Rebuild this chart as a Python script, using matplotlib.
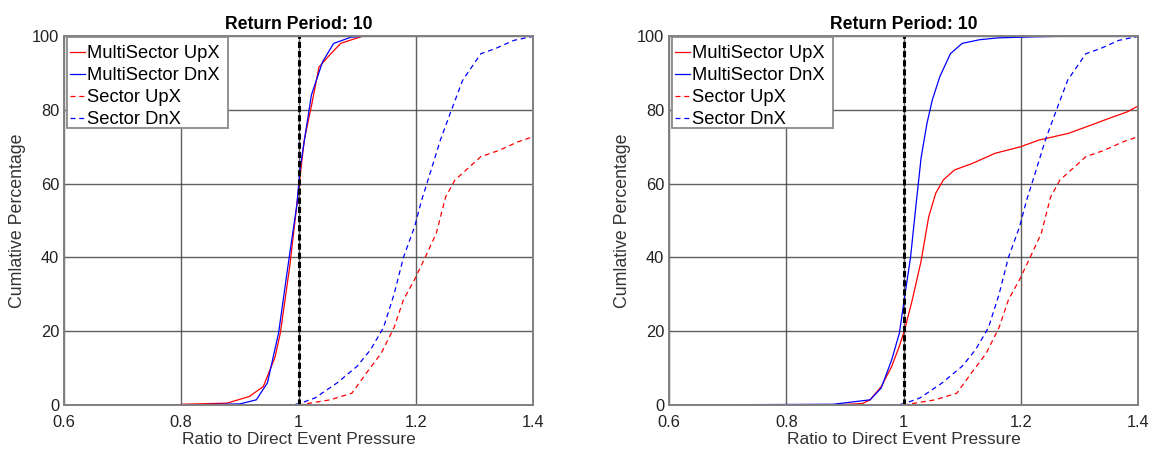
import matplotlib
matplotlib.use("Agg")
import matplotlib.pyplot as plt
from matplotlib.patches import Rectangle

plt.rcParams['font.family'] = ['Liberation Sans', 'DejaVu Sans']

# ---------------- data ----------------
title = "Return Period: 10"
xlabel = "Ratio to Direct Event Pressure"
ylabel = "Cumlative Percentage"
xticks = [0.6, 0.8, 1.0, 1.2, 1.4]
xticklabels = ["0.6", "0.8", "1", "1.2", "1.4"]
yticks = [0, 20, 40, 60, 80, 100]

# Left panel
L_ms_up_x = [0.80, 0.878, 0.916, 0.94, 0.96, 0.969, 0.985, 0.997, 1.010, 1.022, 1.035, 1.054, 1.072, 1.11, 1.4]
L_ms_up_y = [0.2, 0.5, 2.3, 5.0, 13.0, 19.5, 37.5, 54.0, 72.0, 81.0, 91.6, 95.0, 98.0, 100.0, 100.0]
L_ms_dn_x = [0.60, 0.80, 0.90, 0.928, 0.947, 0.966, 0.985, 0.997, 1.003, 1.022, 1.041, 1.06, 1.09, 1.12, 1.4]
L_ms_dn_y = [0.0, 0.0, 0.3, 1.4, 6.0, 19.5, 41.0, 54.0, 64.5, 84.0, 93.0, 98.0, 99.7, 100.0, 100.0]

# Sector curves (same in both panels)
s_up_x = [1.00, 1.054, 1.091, 1.116, 1.141, 1.163, 1.179, 1.198, 1.216, 1.235, 1.251, 1.267, 1.286, 1.311, 1.342, 1.374, 1.40]
s_up_y = [0.0, 1.4, 3.2, 8.7, 14.0, 21.0, 28.5, 34.0, 40.0, 46.5, 56.4, 61.0, 63.7, 67.3, 69.0, 71.3, 72.7]
s_dn_x = [0.98, 1.00, 1.028, 1.066, 1.10, 1.123, 1.145, 1.163, 1.179, 1.198, 1.21, 1.22, 1.242, 1.261, 1.28, 1.311, 1.336, 1.367, 1.40]
s_dn_y = [0.0, 0.3, 1.9, 6.0, 10.5, 15.0, 21.0, 30.0, 40.0, 48.3, 55.5, 60.5, 71.8, 80.0, 88.0, 95.2, 96.6, 98.8, 99.9]

# Right panel
R_ms_up_x = [0.88, 0.93, 0.943, 0.962, 0.98, 0.993, 1.002, 1.015, 1.03, 1.043, 1.055, 1.068, 1.087, 1.118, 1.156, 1.20, 1.231, 1.256, 1.281, 1.319, 1.356, 1.381, 1.40]
R_ms_up_y = [0.0, 0.4, 1.4, 5.0, 10.5, 16.0, 20.4, 28.5, 39.0, 51.0, 57.4, 61.0, 63.7, 65.5, 68.2, 70.0, 71.8, 72.7, 73.6, 75.8, 78.0, 79.4, 81.0]
R_ms_dn_x = [0.60, 0.88, 0.943, 0.962, 0.98, 0.993, 1.002, 1.012, 1.021, 1.03, 1.04, 1.049, 1.062, 1.08, 1.10, 1.13, 1.162, 1.225, 1.30, 1.40]
R_ms_dn_y = [0.0, 0.2, 1.4, 4.6, 12.3, 19.5, 29.4, 40.0, 53.7, 67.0, 76.3, 82.6, 89.0, 95.2, 98.0, 99.0, 99.5, 99.8, 100.0, 100.0]

labels = ["MultiSector UpX", "MultiSector DnX", "Sector UpX", "Sector DnX"]

# ---------------- figure ----------------
W, H = 1152, 450
fig = plt.figure(figsize=(W / 100, H / 100), dpi=100)

ax_w, ax_h = 469, 369
panels = [
    ([64 / W, 45 / H, ax_w / W, ax_h / H], L_ms_up_x, L_ms_up_y, L_ms_dn_x, L_ms_dn_y),
    ([669 / W, 45 / H, ax_w / W, ax_h / H], R_ms_up_x, R_ms_up_y, R_ms_dn_x, R_ms_dn_y),
]

for rect, ux, uy, dx, dy in panels:
    ax = fig.add_axes(rect)
    ax.set_xlim(0.6, 1.4)
    ax.set_ylim(0, 100)
    ax.set_xticks(xticks)
    ax.set_xticklabels(xticklabels)
    ax.set_yticks(yticks)
    ax.grid(True, color='#444444', linewidth=1.0, alpha=0.85)
    ax.set_axisbelow(True)
    for s in ax.spines.values():
        s.set_color('#808080')
        s.set_linewidth(1.4)
    ax.tick_params(length=0, labelsize=11.8, colors='#222222')
    ax.tick_params(axis='x', pad=7.5)
    ax.tick_params(axis='y', pad=3.5)

    ax.plot(ux, uy, color='#ff0000', lw=0.9, label=labels[0])
    ax.plot(dx, dy, color='#0000ff', lw=0.9, label=labels[1])
    ax.plot(s_up_x, s_up_y, color='#ff0000', lw=0.9, ls=(0, (4, 3)), label=labels[2])
    ax.plot(s_dn_x, s_dn_y, color='#0000ff', lw=0.9, ls=(0, (4, 3)), label=labels[3])
    ax.axvline(1.0, color='black', lw=2.2, ls=(0, (2.0, 1.0)))

    ax.set_title(title, fontsize=12.7, fontweight='bold', pad=5)
    ax.set_xlabel(xlabel, fontsize=12.5, color='#333333', labelpad=1.0)
    ax.set_ylabel(ylabel, fontsize=12.8, color='#333333', labelpad=4.5)

    # legend frame (MATLAB-style box with extra right padding)
    ax.add_patch(Rectangle((3 / ax_w, 1 - 91.5 / ax_h), 161 / ax_w, 91 / ax_h,
                           transform=ax.transAxes, facecolor='white',
                           edgecolor='#8a8a8a', linewidth=1.3, zorder=4))
    leg = ax.legend(loc='upper left', bbox_to_anchor=(0, 1 - 4.0 / ax_h), fontsize=13.2,
                    handlelength=0.87, handletextpad=0.08, borderaxespad=0.0,
                    borderpad=0.3, labelspacing=0.27, frameon=False)
    leg.set_zorder(5)

fig.savefig("out.png", dpi=100)
